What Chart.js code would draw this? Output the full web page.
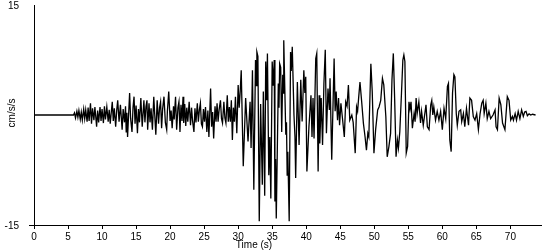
<!DOCTYPE html>
<html><head><meta charset="utf-8">
<script src="https://cdn.jsdelivr.net/npm/chart.js@4.4.1/dist/chart.umd.min.js"></script>
<style>html,body{margin:0;padding:0;background:#fff;}#wrap{width:550px;height:250px;}</style>
</head><body><div id="wrap"><canvas id="c" width="550" height="250"></canvas></div>
<script>
// ---- data (time in s, acceleration in cm/s/s) ----
const quietT = [0, 5.8];
const quietV = [0, 0];

const earlyT = [5.95,6.1,6.3,6.45,6.6,6.8,6.95,7.1,7.3,7.45,7.6,7.8,7.95,8.1,8.3,8.45,8.6,8.8,8.95,9.2,9.35,9.5,9.7,9.85,10.0,10.2,10.35,10.5,10.7,10.9,11.05,11.2,11.5,11.65,11.8,12.0,12.15,12.3,12.5,12.7,12.95,13.1,13.3,13.45,13.55,13.65,13.75,14.05,14.2,14.4,14.55,14.7,14.85,15.0,15.2,15.35,15.5,15.7,15.9,16.15,16.3,16.45,16.6,16.7,16.9,17.05,17.2,17.4,17.6,17.9,18.1,18.3,18.45,18.6,18.75,18.9,19.1,19.3,19.5,19.6,19.8,20.0,20.15,20.3,20.5,20.6,20.8,20.96,21.15,21.3,21.45,21.6,21.75,21.9,22.0,22.15,22.3,22.45,22.6,22.8,23.0,23.15,23.3,23.5,23.65,23.8,24.0,24.15,24.3,24.45,24.6,24.75,24.9,25.05,25.2,25.4,25.55,25.7,25.95,26.1,26.25,26.4,26.6,26.75,26.9,27.05,27.2,27.4,27.55,27.7,27.9,28.05,28.2,28.4,28.55,28.7,28.85,29.0,29.15,29.3,29.45,29.6,29.8,30.0,30.15,30.3];
const earlyV = [0.3,-0.4,0.5,-0.3,0.6,-0.6,0.4,-0.7,0.8,-0.5,0.7,-0.9,1.0,-0.8,1.6,-1.2,0.9,-0.7,1.1,-1.6,0.6,-1.0,1.1,-0.8,0.8,-1.1,1.2,-0.6,1.1,-0.9,0.7,-1.2,1.8,-0.8,0.9,-1.6,0.6,2.0,-0.9,1.4,-2.0,0.8,-1.0,1.2,-2.3,0.3,-3.0,3.0,-0.5,-2.3,1.0,2.5,-1.2,1.3,-2.5,0.8,-1.0,2.3,-1.6,2.0,-1.0,1.1,2.0,-2.0,1.6,-1.0,0.9,-2.0,2.5,-2.7,2.0,-1.2,1.0,1.8,-1.8,0.8,2.5,-1.0,-2.0,0.5,3.2,-0.8,0.6,-1.8,1.2,-0.6,2.5,-2.0,1.0,1.8,-2.3,1.4,-0.8,2.5,-1.1,1.5,-1.5,1.0,-0.9,1.8,-1.4,1.0,-0.8,-2.3,0.9,-1.0,1.6,-0.9,0.7,1.6,-1.2,-1.6,0.8,-0.9,1.1,-2.3,0.6,-3.0,3.6,-1.6,0.4,-3.2,1.2,-0.9,1.6,-0.9,0.7,2.0,-0.5,-1.1,1.8,-0.4,-1.1,2.7,-0.9,1.1,-0.9,2.0,-3.4,1.0,-0.9,2.5,-2.5,4.1,1.0,3.2];

const strongT = [30.45,30.75,31.1,31.45,31.75,31.9,32.1,32.3,32.55,32.65,32.75,32.9,33.1,33.3,33.55,33.7,33.9,34.05,34.2,34.3,34.5,34.65,34.8,35.0,35.15,35.3,35.4,35.5,35.6,35.9,36.0,36.1,36.25,36.4,36.55,36.6,36.7,37.0,37.1,37.2,37.3,37.5,37.7,37.8,37.95,38.2,38.35,38.45,38.7,38.95,39.2,39.4,39.65,39.8,39.93];
const strongV = [6.1,-7.0,2.3,-3.6,1.8,-4.5,6.1,-10.2,7.5,4.0,8.6,8.0,-14.5,1.5,-9.5,3.2,-11.0,7.3,2.0,8.4,-8.2,-3.0,-11.4,7.3,4.0,7.5,-11.8,-6.0,-14.1,4.3,1.0,7.0,6.5,-2.3,5.5,3.0,10.2,-2.7,-1.0,-8.2,-5.0,-14.5,8.6,6.0,9.3,0,-3.0,-8.6,4.5,-4.1,4.8,-0.9,6.1,3.0,5.2];

const codaT = [40.1,40.4,40.7,40.85,41.0,41.15,41.4,41.55,41.75,41.9,42.0,42.2,42.4,42.6,42.8,42.97,43.2,43.4,43.5,43.75,44.1,44.25,44.4,44.6,44.75,44.9,45.1,45.3,45.6,45.8,46.0,46.2,46.4,46.7,46.9,47.2,47.4,47.55,47.7,47.9,48.15,48.4,48.65,48.85,49.05,49.2,49.5,49.7,49.95,50.2,50.5,50.7,50.95,51.2,51.4,51.7,51.9,52.15,52.4,52.6,52.8,53.0,53.2,53.4,53.55,53.75,54.0,54.2,54.35,54.5,54.7,54.9,55.1,55.25,55.4,55.6,55.85,56.0,56.15,56.3,56.55,56.8,56.95,57.2,57.6,57.8,58.05,58.3,58.45,58.6,58.75,59.0,59.25,59.5,59.75,60.0,60.25,60.5,60.75,60.9,61.1,61.3,61.5,61.7,61.85,62.05,62.2,62.45,62.7,62.85,63.1,63.3,63.55,63.85,64.05,64.3,64.55,64.8,65.05,65.3,65.55,65.8,66.0,66.15,66.4,66.6,66.85,67.1,67.45,67.75,67.9,68.1,68.35,68.6,68.85,69.2,69.55,69.8,70.05,70.3,70.45,70.7,70.9,71.15,71.4,71.65,71.9,72.1,72.3,72.5,72.75,73.0,73.25,73.7];
const codaV = [-7.7,-1.6,2.7,-3.0,2.3,-3.2,7.7,8.4,-7.7,2.7,-3.9,2.3,-4.1,4.3,8.9,-2.5,3.6,0.7,5.0,-6.1,7.7,0.5,3.2,-0.7,2.3,-1.4,1.6,-0.2,-3.0,1.8,1.2,4.1,-0.7,0,-1.0,-5.2,1.1,0.5,2.3,4.5,1.8,-1.1,-3.0,-4.8,-2.5,-3.0,7.0,3.2,-5.2,-2.0,0.7,1.1,2.0,5.0,4.1,-0.2,-5.7,-4.3,-2.5,4.8,8.4,2.0,-5.7,-3.4,-4.5,-2.3,3.0,7.5,8.2,7.3,-5.2,-4.3,1.8,0.8,1.8,-1.8,0.2,-0.9,2.3,0.2,1.8,-1.1,0.5,-1.4,1.4,-1.6,-2.0,1.4,2.0,0,1.1,-0.7,0.5,-0.7,0.5,-2.0,0.9,-0.5,3.9,4.3,-3.4,-5.0,3.0,5.5,5.2,0.2,-1.4,0.5,0.7,-0.9,0.2,-1.6,0.9,-1.4,2.3,2.0,-0.2,-0.7,0.2,-2.0,0.2,1.6,2.0,0.2,1.6,-0.5,0.5,-0.5,0,0.7,-1.6,-2.0,2.3,1.4,-1.1,-2.0,2.5,2.0,-0.7,-0.2,-0.7,0.2,-0.7,0.5,-0.5,0.7,-0.2,0.4,0.5,-0.1,0.15,0,0.1,0];

const xTickValues = [0,5,10,15,20,25,30,35,40,45,50,55,60,65,70];
const yTickValues = [-15, 15];
const xTitle = 'Time (s)';
const yTitle = 'cm/s/s';

// ---- build the series ----
function toPoints(ts, vs){ return ts.map((t,i)=>({x:t, y:vs[i]})); }
const points = [].concat(
  toPoints(quietT, quietV), toPoints(earlyT, earlyV),
  toPoints(strongT, strongV), toPoints(codaT, codaV));

const FONT_FAMILY = '"Liberation Sans", Arial, Helvetica, sans-serif';
const tickFont = {family: FONT_FAMILY, size: 10};

// y tick labels and axis titles drawn as text on the canvas
const axisText = {
  id: 'axisText',
  afterDraw(chart){
    const c = chart.ctx, ys = chart.scales.y;
    c.save();
    c.font = '10px ' + FONT_FAMILY;
    c.fillStyle = '#000';
    c.textBaseline = 'middle';
    c.textAlign = 'right';
    yTickValues.forEach(v => c.fillText(String(v), 19, ys.getPixelForValue(v) + 1));
    c.textAlign = 'center';
    c.fillText(xTitle, 254, 245.5);
    c.translate(12.5, 113);
    c.rotate(-Math.PI / 2);
    c.fillText(yTitle, 0, 0);
    c.restore();
  }
};

new Chart(document.getElementById('c'), {
  type: 'line',
  data: { datasets: [{
    data: points, borderColor: '#000', borderWidth: 1.3,
    pointRadius: 0, tension: 0, fill: false
  }]},
  options: {
    responsive: false, animation: false, devicePixelRatio: 1,
    parsing: false, normalized: true,
    layout: { padding: { top: 5, right: 9, left: 0, bottom: 0 } },
    plugins: { legend: { display: false }, tooltip: { enabled: false }, title: { display: false } },
    scales: {
      x: {
        type: 'linear', min: 0, max: 74.5,
        afterBuildTicks: s => { s.ticks = xTickValues.map(v => ({ value: v })); },
        afterFit: s => { s.height = 25; },
        ticks: { color: '#000', font: tickFont, padding: 2, maxRotation: 0, autoSkip: false, callback: v => String(v) },
        grid: { drawOnChartArea: false, drawTicks: true, tickLength: 4, color: '#000' },
        border: { display: true, color: '#000', width: 1 }
      },
      y: {
        type: 'linear', min: -15, max: 15,
        afterBuildTicks: s => { s.ticks = yTickValues.map(v => ({ value: v })); },
        afterFit: s => { s.width = 34; },
        ticks: { display: false },
        grid: { drawOnChartArea: false, drawTicks: true, tickLength: 5,
                color: c => (c.tick && c.tick.value === -15) ? '#000' : 'rgba(0,0,0,0)' },
        border: { display: true, color: '#000', width: 1 }
      }
    }
  },
  plugins: [axisText]
});
</script>
</body></html>
